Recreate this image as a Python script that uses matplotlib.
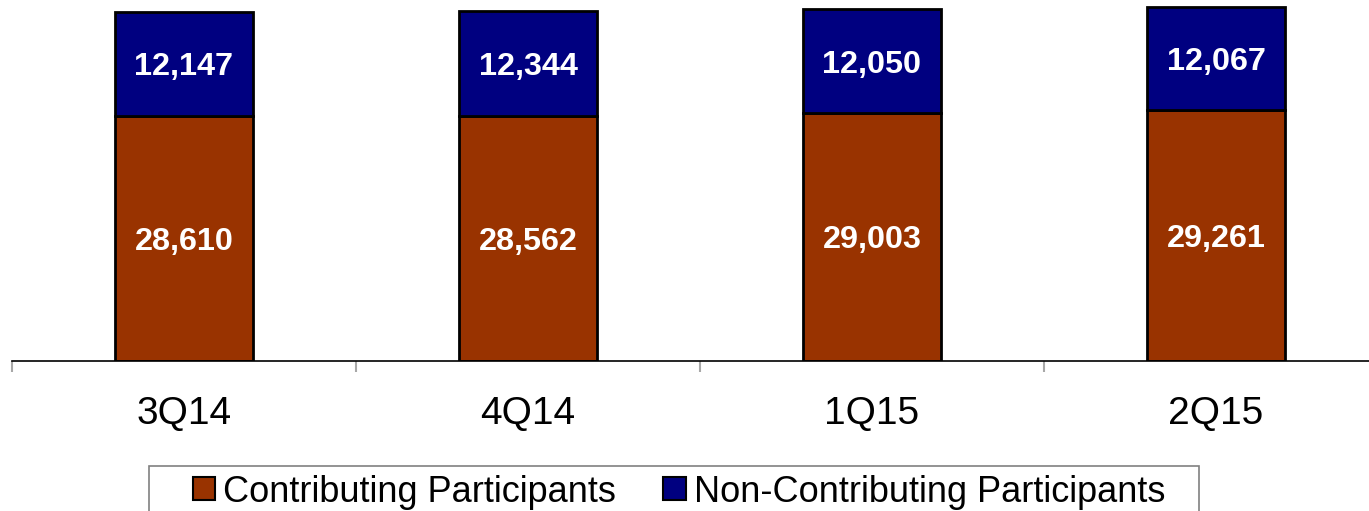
import matplotlib.pyplot as plt
from matplotlib.patches import Patch, Rectangle

plt.rcParams["font.family"] = ["Liberation Sans", "DejaVu Sans"]

# === Data ===
quarters = ["3Q14", "4Q14", "1Q15", "2Q15"]
contributing = [28610, 28562, 29003, 29261]
non_contributing = [12147, 12344, 12050, 12067]

ORANGE = "#993300"
NAVY = "#000080"

fig = plt.figure(figsize=(13.69, 5.11), dpi=100)
W, H = 1369, 511
# axes spans x 12..1388 px, y 0..361 px (from top)
ax = fig.add_axes([12 / W, 1 - 361 / H, 1376 / W, 361 / H])

x = list(range(len(quarters)))
ax.bar(x, contributing, width=0.4, color=ORANGE, edgecolor="black", linewidth=2)
ax.bar(x, non_contributing, width=0.4, bottom=contributing, color=NAVY,
       edgecolor="black", linewidth=2)

# value labels, centred on each segment
for i in x:
    c, n = contributing[i], non_contributing[i]
    for val, mid in [(c, c / 2), (n, c + n / 2)]:
        ax.annotate(f"{val:,}", (i, mid), xytext=(0, -2.5), textcoords="offset points",
                    ha="center", va="center", color="white", fontsize=23.3,
                    fontweight="bold")

ax.set_xlim(-0.5, 3.5)
ax.set_ylim(0, 42155)

for s in ["top", "right", "left"]:
    ax.spines[s].set_visible(False)
ax.spines["bottom"].set_color("black")
ax.spines["bottom"].set_linewidth(1.2)
ax.set_yticks([])

ax.set_xticks(x)
ax.set_xticklabels(quarters, fontsize=28)
ax.tick_params(axis="x", which="major", length=0, pad=25)
ax.set_xticks([-0.5, 0.5, 1.5, 2.5], minor=True)
ax.tick_params(axis="x", which="minor", length=8, width=1.5, color="#a8a8a8")

# legend
handles = [Patch(facecolor=ORANGE, edgecolor="black", linewidth=1.5),
           Patch(facecolor=NAVY, edgecolor="black", linewidth=1.5)]
fig.legend(handles, ["Contributing Participants", "Non-Contributing Participants"],
           loc="center", bbox_to_anchor=(679 / W, 1 - 492 / H), ncol=2,
           frameon=False, fontsize=26, handlelength=0.62, handleheight=0.62,
           handletextpad=0.22, columnspacing=1.3, borderpad=0)
fig.patches.append(Rectangle((149 / W, -0.1), 1050 / W, 0.1 + 1 - 466 / H,
                             transform=fig.transFigure, fill=False,
                             edgecolor="#808080", linewidth=1.2))

plt.savefig("out.png", dpi=100)
plt.close()
